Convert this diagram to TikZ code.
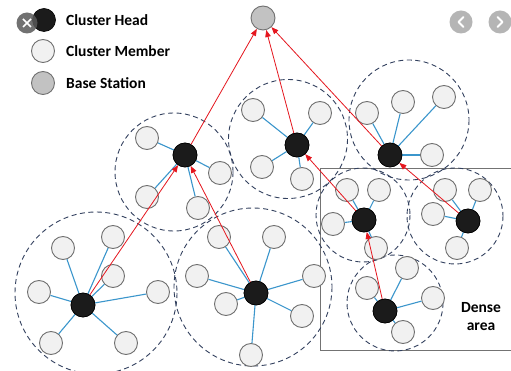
\documentclass[tikz,border=0pt]{standalone}
\usepackage{fontspec}
\setmainfont{Carlito}
\usetikzlibrary{arrows.meta}
\definecolor{memfill}{HTML}{F1F1F1}
\definecolor{memdraw}{HTML}{707070}
\definecolor{chfill}{HTML}{1B1B1B}
\definecolor{bsfill}{HTML}{C2C2C2}
\definecolor{linkblue}{HTML}{3B96CC}
\definecolor{ringblue}{HTML}{33415F}
\definecolor{arrowred}{HTML}{E5161E}
\definecolor{navgray}{HTML}{B5B5B5}
\begin{document}
\begin{tikzpicture}[x=1pt,y=-1pt,
  member/.style={circle,draw=memdraw,fill=memfill,line width=0.9pt,minimum size=23pt,inner sep=0pt},
  head/.style={circle,draw=black,fill=chfill,line width=0.6pt,minimum size=24pt,inner sep=0pt},
  bs/.style={circle,draw=memdraw,fill=bsfill,line width=0.9pt,minimum size=24pt,inner sep=0pt},
  ring/.style={draw=ringblue,line width=0.9pt,dash pattern=on 5pt off 3.5pt},
  link/.style={draw=linkblue,line width=1.1pt},
  uplink/.style={draw=arrowred,line width=0.8pt,-{Triangle[length=7pt,width=5.5pt]}},
  legendtext/.style={anchor=west,font=\bfseries\fontsize{15.5}{18}\selectfont,inner sep=0pt},
  navbtn/.style={circle,fill=navgray,minimum size=23pt,inner sep=0pt}]
\useasboundingbox (0,0) rectangle (511,371);
\fill[white] (0,0) rectangle (511,371);

% dense area frame
\draw[draw=gray!90!black,line width=0.9pt] (513,168) -- (320,168) -- (320,350) -- (513,350);

% cluster rings
\draw[ring] (174,172) circle (59);
\draw[ring] (288,139) circle (59.5);
\draw[ring] (409,120) circle (60);
\draw[ring] (96,293) circle (81);
\draw[ring] (253,287) circle (79);
\draw[ring] (363,215) circle (47);
\draw[ring] (455,216) circle (48);
\draw[ring] (395,303) circle (48);

% base station
\node[bs] (bs) at (263,18) {};

% cluster heads
\node[head] (ha) at (185,155) {};
\node[head] (hb) at (297,145) {};
\node[head] (hc) at (390,155) {};
\node[head] (hd) at (83,305) {};
\node[head] (he) at (256,293) {};
\node[head] (hf) at (364,220) {};
\node[head] (hg) at (468,221) {};
\node[head] (hh) at (385,311) {};

% members and links
\foreach \h/\pts in {ha/{(147,138),(220,173),(147,197),(198,208)},
                     hb/{(253,110),(320,113),(262,167),(302,179)},
                     hc/{(367,113),(403,102),(444,97),(432,155)},
                     hd/{(63,248),(113,237),(113,276),(39,292),(158,292),(51,343),(126,343)},
                     he/{(219,237),(274,237),(197,276),(314,276),(226,304),(302,316),(251,355)},
                     hf/{(347,190),(379,190),(333,224),(376,248)},
                     hg/{(445,190),(480,190),(433,214),(457,248)},
                     hh/{(407,268),(367,288),(433,298),(403,332)}}{
  \foreach \p [count=\i] in \pts {
    \node[member] (\h m\i) at \p {};
    \draw[link] (\h) -- (\h m\i);
  }
}
% redraw heads on top of links
\foreach \h/\p in {ha/{(185,155)},hb/{(297,145)},hc/{(390,155)},hd/{(83,305)},he/{(256,293)},hf/{(364,220)},hg/{(468,221)},hh/{(385,311)}}{
  \node[head] at \p {};
}

% upward links
\draw[uplink] (hd) -- (ha);
\draw[uplink] (he) -- (ha);
\draw[uplink] (ha) -- (bs);
\draw[uplink] (hb) -- (bs);
\draw[uplink] (hc) -- (bs);
\draw[uplink] (hf) -- (hb);
\draw[uplink] (hg) -- (hc);
\draw[uplink] (hh) -- (hf);

% legend
\node[head,minimum size=23pt] (lch) at (44,20) {};
\node[circle,fill=gray!70!black,opacity=0.85,minimum size=21pt,inner sep=0pt] (xbtn) at (27,23) {};
\draw[white,line width=1.6pt] ([shift={(-4,-4)}]xbtn.center) -- ([shift={(4,4)}]xbtn.center)
  ([shift={(-4,4)}]xbtn.center) -- ([shift={(4,-4)}]xbtn.center);
\node[member] (lcm) at (43,51) {};
\node[bs,minimum size=23pt] (lbs) at (43,83) {};
\node[legendtext] (tch) at (66,20) {Cluster Head};
\node[legendtext] (tcm) at (66,51) {Cluster Member};
\node[legendtext] (tbs) at (66,83) {Base Station};

% dense area label
\node[font=\bfseries\fontsize{15.5}{18}\selectfont,align=center,inner sep=0pt] (dense) at (481,317) {Dense\\area};

% navigation buttons
\node[navbtn] (prev) at (461,22) {};
\node[navbtn] (next) at (500,22) {};
\draw[white,line width=2pt,line cap=round,line join=round]
  ([shift={(2.5,-5)}]prev.center) -- ([shift={(-2.5,0)}]prev.center) -- ([shift={(2.5,5)}]prev.center);
\draw[white,line width=2pt,line cap=round,line join=round]
  ([shift={(-2.5,-5)}]next.center) -- ([shift={(2.5,0)}]next.center) -- ([shift={(-2.5,5)}]next.center);
\end{tikzpicture}
\end{document}
